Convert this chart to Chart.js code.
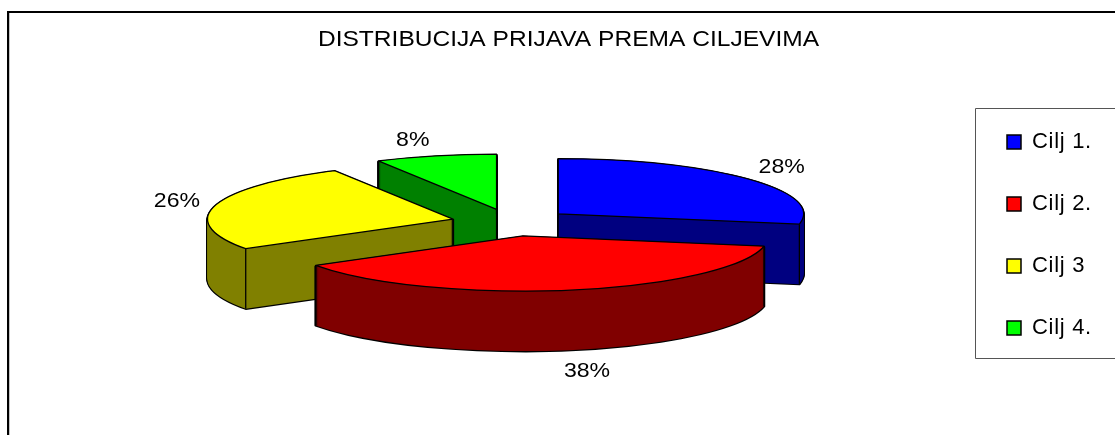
<!DOCTYPE html>
<html><head><meta charset="utf-8">
<style>html,body{margin:0;padding:0;background:#fff}canvas{display:block}</style>
<script src="https://cdn.jsdelivr.net/npm/chart.js@4"></script>
</head><body><canvas id="c" width="1115" height="435"></canvas>
<script>
const titleText = 'DISTRIBUCIJA PRIJAVA PREMA CILJEVIMA';
const categories = ['Cilj 1.', 'Cilj 2.', 'Cilj 3', 'Cilj 4.'];
const values = [28, 38, 26, 8];
const topColors = ['#0000ff', '#ff0000', '#ffff00', '#00ff00'];
const sideColors = ['#000080', '#800000', '#808000', '#008000'];
const paintOrder = [3, 0, 2, 1];
const labelReachX = [290, 342, 285, 337];
const labelReachY = [328, 340, 315, 316];

const view = {cx: 511.6, cy: 222.5, radius: 245.5, tilt: 0.225, explode: 60.5, depth: 60};
const font = 'Liberation Sans';
const titleStretch = 1.116;
const labelStretch = 1.1;

const framePlugin = {
  id: 'frame',
  afterLayout(chart) {
    const l = chart.legend;
    const w = l.width, h = l.height;
    l.left = 1007 - l.options.labels.padding; l.right = l.left + w;
    l.top = 91; l.bottom = l.top + h;
    const t = chart.titleBlock;
    if (!t._wrapped) {
      const draw = t.draw;
      t.draw = function () {
        const c = chart.ctx, mid = (t.left + t.right) / 2;
        c.save();
        c.letterSpacing = '0px';
        c.translate(mid, 0); c.scale(titleStretch, 1); c.translate(-mid, 0);
        draw.call(t);
        c.restore();
      };
      t._wrapped = true;
    }
  },
  beforeDraw(chart) {
    const c = chart.ctx;
    c.save();
    c.fillStyle = '#000';
    c.fillRect(7, 11, 1108, 2);
    c.fillRect(7, 11, 2, 424);
    c.fillStyle = '#c4c4c4';
    c.fillRect(9, 13, 1, 422);
    c.strokeStyle = '#555';
    c.lineWidth = 1;
    c.beginPath();
    c.moveTo(1116, 108.5); c.lineTo(975.5, 108.5); c.lineTo(975.5, 358.5); c.lineTo(1116, 358.5);
    c.stroke();
    c.restore();
    c.letterSpacing = '0.7px';
  }
};

function place(c, arc, down) {
  const mid = (arc.startAngle + arc.endAngle) / 2;
  const s = view.radius / arc.outerRadius;
  c.translate(view.cx + Math.cos(mid) * view.explode,
              view.cy + Math.sin(mid) * view.explode * view.tilt + down);
  c.scale(s, s * view.tilt);
  c.translate(-arc.x, -arc.y);
}
function outline(c, arc, down) {
  c.save();
  place(c, arc, down);
  c.beginPath();
  c.moveTo(arc.x, arc.y);
  c.arc(arc.x, arc.y, arc.outerRadius, arc.startAngle, arc.endAngle);
  c.closePath();
  c.restore();
}
function fillFace(c, arc, color, down) {
  const saved = arc.options;
  arc.options = {...saved, backgroundColor: color, borderColor: color, borderWidth: 0};
  c.save();
  place(c, arc, down);
  arc.draw(c);
  c.restore();
  arc.options = saved;
}
function corner(arc, angle, down) {
  const mid = (arc.startAngle + arc.endAngle) / 2;
  return {
    x: view.cx + Math.cos(mid) * view.explode + (angle === null ? 0 : Math.cos(angle) * view.radius),
    y: view.cy + Math.sin(mid) * view.explode * view.tilt + down + (angle === null ? 0 : Math.sin(angle) * view.radius * view.tilt)
  };
}

const pie3d = {
  id: 'pie3d',
  beforeDatasetsDraw(chart) {
    const c = chart.ctx;
    const arcs = chart.getDatasetMeta(0).data;
    c.save();
    c.lineJoin = 'round';
    paintOrder.forEach(i => {
      const arc = arcs[i];
      const mid = (arc.startAngle + arc.endAngle) / 2;
      c.strokeStyle = '#000';
      c.lineWidth = 2.4;
      for (let d = view.depth; d >= 1; d--) { outline(c, arc, d); c.stroke(); }
      for (let d = view.depth; d >= 1; d--) fillFace(c, arc, sideColors[i], d);
      c.lineWidth = 1.3;
      const edges = Math.sin(mid) > 0.5 ? [arc.startAngle, arc.endAngle] : [arc.startAngle, arc.endAngle, null];
      edges.forEach(a => {
        const p = corner(arc, a, 0);
        c.beginPath(); c.moveTo(p.x, p.y); c.lineTo(p.x, p.y + view.depth); c.stroke();
      });
      fillFace(c, arc, topColors[i], 0);
      outline(c, arc, 0);
      c.lineWidth = 1.3;
      c.stroke();
    });
    c.fillStyle = '#000';
    c.font = '21px "' + font + '"';
    c.letterSpacing = '0px';
    c.textAlign = 'center';
    c.textBaseline = 'middle';
    arcs.forEach((arc, i) => {
      const mid = (arc.startAngle + arc.endAngle) / 2;
      const p = corner(arc, null, 0);
      const below = Math.sin(mid) > 0.5 ? view.depth : 0;
      c.save();
      c.translate(p.x + Math.cos(mid) * labelReachX[i],
                  p.y + Math.sin(mid) * view.tilt * labelReachY[i] + below);
      c.scale(labelStretch, 1);
      c.fillText(values[i] + '%', 0, 0);
      c.restore();
    });
    c.restore();
    return false;
  }
};

Chart.defaults.font.family = font;
Chart.defaults.color = '#000';
new Chart(document.getElementById('c'), {
  type: 'pie',
  data: {
    labels: categories,
    datasets: [{data: values, backgroundColor: topColors, borderColor: '#000', borderWidth: 1.5}]
  },
  options: {
    responsive: false,
    animation: false,
    layout: {padding: {left: 22}},
    plugins: {
      title: {display: true, text: titleText, color: '#000', font: {size: 22, weight: 'normal'}, padding: {top: 27, bottom: 0}},
      legend: {
        position: 'right', align: 'start',
        labels: {boxWidth: 14, boxHeight: 14, padding: 40, color: '#000', font: {size: 22}}
      },
      tooltip: {enabled: false}
    }
  },
  plugins: [framePlugin, pie3d]
});
</script></body></html>
